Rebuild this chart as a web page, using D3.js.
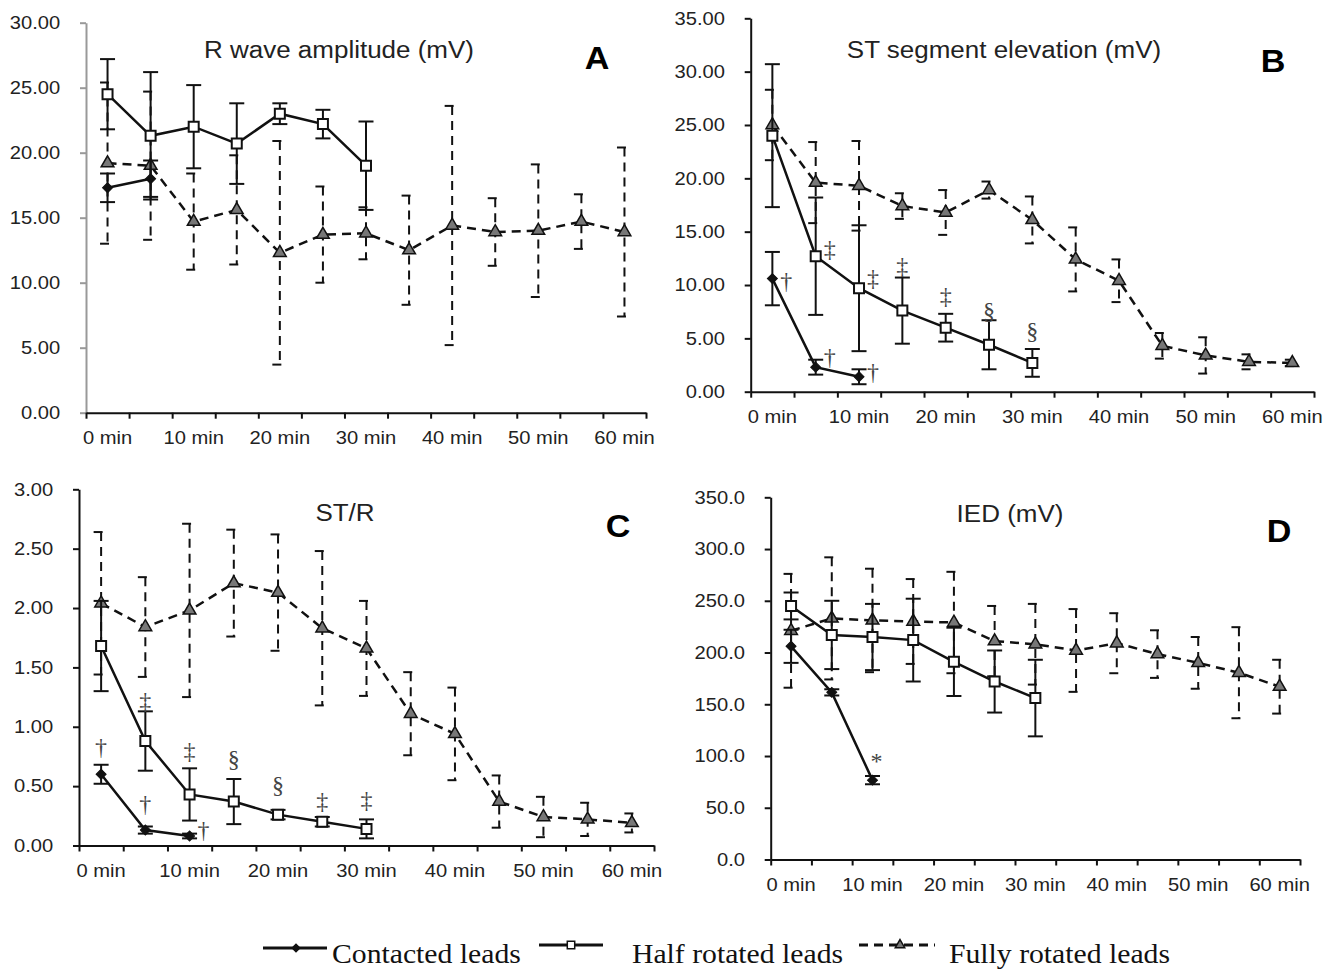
<!DOCTYPE html>
<html>
<head>
<meta charset="utf-8">
<script src="https://cdn.jsdelivr.net/npm/d3@7"></script>
<style>
  body { margin: 0; background: #fff; }
</style>
</head>
<body>
<div id="chart"></div>
<script>
/* DATA */
const minutes = [0, 5, 10, 15, 20, 25, 30, 35, 40, 45, 50, 55, 60];

// A - R wave amplitude (mV)
const rContacted = [17.3, 18.0];
const rContactedSd = [1.1, 1.4];
const rHalf = [24.5, 21.3, 22.0, 20.7, 23.0, 22.2, 19.0];
const rHalfSd = [2.7, 4.9, 3.2, 3.1, 0.8, 1.1, 3.4];
const rFully = [19.2, 19.0, 14.7, 15.6, 12.3, 13.7, 13.8, 12.5, 14.4, 13.9, 14.0, 14.7, 13.9];
const rFullySd = [6.2, 5.7, 3.7, 4.2, 8.6, 3.7, 2.0, 4.2, 9.2, 2.6, 5.1, 2.1, 6.5];
const rTicks = [0, 5, 10, 15, 20, 25, 30];

// B - ST segment elevation (mV)
const stContacted = [10.6, 2.3, 1.4];
const stContactedSd = [2.5, 0.7, 0.7];
const stHalf = [24.0, 12.7, 9.7, 7.6, 6.0, 4.4, 2.7];
const stHalfSd = [6.7, 5.5, 5.9, 3.1, 1.3, 2.3, 1.3];
const stFully = [25.0, 19.6, 19.3, 17.4, 16.8, 18.9, 16.1, 12.4, 10.4, 4.3, 3.4, 2.8, 2.7];
const stFullySd = [3.3, 3.8, 4.2, 1.2, 2.1, 0.8, 2.2, 3.0, 2.0, 1.2, 1.7, 0.7, 0.3];
const stTicks = [0, 5, 10, 15, 20, 25, 30, 35];
const stMarks = [
  { i: 0, v: 10.4, s: "†", beside: true },
  { i: 1, v: 3.3, s: "†", beside: true },
  { i: 2, v: 1.9, s: "†", beside: true },
  { i: 1, v: 13.4, s: "‡", beside: true },
  { i: 2, v: 10.7, s: "‡", beside: true },
  { i: 3, v: 11.8, s: "‡", beside: false },
  { i: 4, v: 9.0, s: "‡", beside: false },
  { i: 5, v: 7.6, s: "§", beside: false },
  { i: 6, v: 5.7, s: "§", beside: false }
];

// C - ST/R
const strContacted = [0.60, 0.13, 0.08];
const strContactedSd = [0.08, 0.03, 0.02];
const strHalf = [1.68, 0.88, 0.43, 0.37, 0.26, 0.20, 0.14];
const strHalfSd = [0.38, 0.25, 0.22, 0.19, 0.04, 0.04, 0.08];
const strFully = [2.04, 1.84, 1.98, 2.21, 2.13, 1.83, 1.66, 1.11, 0.94, 0.37, 0.24, 0.22, 0.19];
const strFullySd = [0.60, 0.42, 0.73, 0.45, 0.49, 0.65, 0.40, 0.35, 0.39, 0.22, 0.17, 0.14, 0.08];
const strTicks = [0, 0.5, 1, 1.5, 2, 2.5, 3];
const strMarks = [
  { i: 0, v: 0.83, s: "†", beside: false },
  { i: 1, v: 0.35, s: "†", beside: false },
  { i: 2, v: 0.13, s: "†", beside: true },
  { i: 1, v: 1.22, s: "‡", beside: false },
  { i: 2, v: 0.80, s: "‡", beside: false },
  { i: 3, v: 0.73, s: "§", beside: false },
  { i: 4, v: 0.51, s: "§", beside: false },
  { i: 5, v: 0.38, s: "‡", beside: false },
  { i: 6, v: 0.39, s: "‡", beside: false }
];

// D - IED (mV)
const iedContacted = [206, 161.5, 76.7];
const iedContactedSd = [16, 3, 4];
const iedHalf = [245, 217, 215, 212, 191, 172, 156];
const iedHalfSd = [13, 33, 32, 40, 33, 30, 37];
const iedFully = [221, 233, 231, 230, 229, 211, 208, 202, 209, 198.5, 190, 180.5, 167];
const iedFullySd = [55, 59, 50, 41, 49, 34, 39, 40, 29, 23, 25, 44, 26];
const iedTicks = [0, 50, 100, 150, 200, 250, 300, 350];
const iedMarks = [{ i: 2, v: 96, s: "*", beside: false }];

const legendLabels = ["Contacted leads", "Half rotated leads", "Fully rotated leads"];

/* LAYOUT */
const width = 1331, height = 969;
const ink = "#111";
const sans = "'Liberation Sans', Arial, sans-serif";
const serif = "'Liberation Serif', 'Times New Roman', serif";
const stretch = 1.12; // lettering in the figure is a little wider than normal

const panels = [
  { letter: "A", title: "R wave amplitude (mV)", x0: 86, x1: 646, yTop: 22.7, yBot: 412.7,
    max: 30, ticks: rTicks, fmt: ".2f", yColor: "#999",
    titleX: 339, titleY: 58, letterX: 597, letterY: 69,
    series: [[rFully, rFullySd], [rHalf, rHalfSd], [rContacted, rContactedSd]], marks: [] },
  { letter: "B", title: "ST segment elevation (mV)", x0: 750.7, x1: 1314, yTop: 18.3, yBot: 391.7,
    max: 35, ticks: stTicks, fmt: ".2f", yColor: ink,
    titleX: 1004, titleY: 58, letterX: 1273, letterY: 72,
    series: [[stFully, stFullySd], [stHalf, stHalfSd], [stContacted, stContactedSd]], marks: stMarks },
  { letter: "C", title: "ST/R", x0: 79, x1: 654, yTop: 489.3, yBot: 845.5,
    max: 3, ticks: strTicks, fmt: ".2f", yColor: ink,
    titleX: 345, titleY: 521, letterX: 618, letterY: 537,
    series: [[strFully, strFullySd], [strHalf, strHalfSd], [strContacted, strContactedSd]], marks: strMarks },
  { letter: "D", title: "IED (mV)", x0: 770.7, x1: 1300, yTop: 497.3, yBot: 859.5,
    max: 350, ticks: iedTicks, fmt: ".1f", yColor: ink,
    titleX: 1010, titleY: 522, letterX: 1279, letterY: 542,
    series: [[iedFully, iedFullySd], [iedHalf, iedHalfSd], [iedContacted, iedContactedSd]], marks: iedMarks }
];

// series styles: fully (dashed, triangle), half (solid, square), contacted (solid, diamond)
const styles = [
  { dash: "9,6", symbol: d3.symbolTriangle, size: 70, fill: "#777", sw: 1.5, rot: 0 },
  { dash: null, symbol: d3.symbolSquare, size: 100, fill: "#fff", sw: 2, rot: 0 },
  { dash: null, symbol: d3.symbolSquare, size: 50, fill: ink, sw: 1, rot: 45 }
];

const svg = d3.select("#chart").append("svg")
  .attr("width", width)
  .attr("height", height)
  .attr("font-family", sans);

panels.forEach(drawPanel);
drawLegend();

function drawPanel(p) {
  const x = d3.scaleBand().domain(minutes).range([p.x0, p.x1]);
  const xEdges = d3.scaleLinear().domain([0, minutes.length]).range([p.x0, p.x1]);
  const y = d3.scaleLinear().domain([0, p.max]).range([p.yBot, p.yTop]);
  const cx = i => x(minutes[i]) + x.bandwidth() / 2;
  const g = svg.append("g");

  // y axis
  const yAxis = g.append("g")
    .attr("transform", `translate(${p.x0},0)`)
    .call(d3.axisLeft(y).tickValues(p.ticks).tickFormat(d3.format(p.fmt))
      .tickSize(6).tickSizeOuter(0).tickPadding(17))
    .attr("font-family", sans)
    .attr("font-size", 18);
  yAxis.select(".domain").attr("stroke", p.yColor).attr("stroke-width", 2);
  yAxis.selectAll(".tick line").attr("stroke", p.yColor).attr("stroke-width", 2);
  yAxis.selectAll(".tick text").attr("fill", "#222").attr("transform", `scale(${stretch},1)`);

  // x axis: tick marks on category edges
  const xAxis = g.append("g")
    .attr("transform", `translate(0,${p.yBot})`)
    .call(d3.axisBottom(xEdges).tickValues(d3.range(minutes.length + 1)).tickFormat("")
      .tickSize(6).tickSizeOuter(0));
  xAxis.select(".domain").attr("stroke", ink).attr("stroke-width", 2);
  xAxis.selectAll(".tick line").attr("stroke", ink).attr("stroke-width", 2);

  // x labels on category centres, every 10 min
  const xLab = g.append("g")
    .attr("transform", `translate(0,${p.yBot})`)
    .call(d3.axisBottom(x).tickSize(0).tickPadding(19)
      .tickFormat(d => d % 10 === 0 ? d + " min" : ""))
    .attr("font-family", sans)
    .attr("font-size", 18);
  xLab.select(".domain").remove();
  xLab.selectAll(".tick text").attr("fill", "#222").attr("transform", `scale(${stretch},1)`);

  // titles
  g.append("text")
    .attr("transform", `translate(${p.titleX},${p.titleY}) scale(1.13,1)`)
    .attr("text-anchor", "middle")
    .attr("font-size", 23)
    .attr("fill", "#222")
    .text(p.title);
  g.append("text")
    .attr("transform", `translate(${p.letterX},${p.letterY}) scale(1.1,1)`)
    .attr("text-anchor", "middle")
    .attr("font-size", 31)
    .attr("font-weight", "bold")
    .attr("fill", "#000")
    .text(p.letter);

  // series
  p.series.forEach(([means, sds], k) => {
    const st = styles[k];
    const pts = means.map((v, i) => ({ cx: cx(i), v, sd: sds[i] }));
    const eb = g.append("g")
      .attr("stroke", ink)
      .attr("stroke-width", 2)
      .attr("stroke-dasharray", st.dash);
    const bars = eb.selectAll("g").data(pts).join("g");
    bars.append("line")
      .attr("x1", d => d.cx).attr("x2", d => d.cx)
      .attr("y1", d => y(d.v + d.sd)).attr("y2", d => y(Math.max(0, d.v - d.sd)));
    bars.append("line")
      .attr("x1", d => d.cx - 7.5).attr("x2", d => d.cx + 7.5)
      .attr("y1", d => y(d.v + d.sd)).attr("y2", d => y(d.v + d.sd));
    bars.append("line")
      .attr("x1", d => d.cx - 7.5).attr("x2", d => d.cx + 7.5)
      .attr("y1", d => y(Math.max(0, d.v - d.sd))).attr("y2", d => y(Math.max(0, d.v - d.sd)));

    g.append("path")
      .datum(pts)
      .attr("fill", "none")
      .attr("stroke", ink)
      .attr("stroke-width", 2.5)
      .attr("stroke-dasharray", st.dash)
      .attr("d", d3.line().x(d => d.cx).y(d => y(d.v)));

    g.selectAll(null).data(pts).join("path")
      .attr("transform", d => `translate(${d.cx},${y(d.v)}) rotate(${st.rot})`)
      .attr("d", d3.symbol(st.symbol, st.size))
      .attr("fill", st.fill)
      .attr("stroke", ink)
      .attr("stroke-width", st.sw);
  });

  // significance marks
  g.selectAll(null).data(p.marks).join("text")
    .attr("x", d => cx(d.i) + (d.beside ? 14 : (d.s === "*" ? 4 : 0)))
    .attr("y", d => y(d.v))
    .attr("dy", "0.35em")
    .attr("text-anchor", "middle")
    .attr("font-family", serif)
    .attr("font-size", d => d.s === "*" ? 24 : 24)
    .attr("fill", "#444")
    .text(d => d.s);
}

function drawLegend() {
  const lg = svg.append("g");
  const items = [
    { x1: 263, x2: 327, y: 948, sx: 296, tx: 332, st: styles[2] },
    { x1: 539, x2: 603, y: 945, sx: 571, tx: 632, st: styles[1] },
    { x1: 859, x2: 935, y: 945, sx: 900, tx: 949, st: styles[0] }
  ];
  items.forEach((it, k) => {
    lg.append("line")
      .attr("x1", it.x1).attr("x2", it.x2)
      .attr("y1", it.y).attr("y2", it.y)
      .attr("stroke", ink)
      .attr("stroke-width", 3)
      .attr("stroke-dasharray", it.st.dash);
    lg.append("path")
      .attr("transform", `translate(${it.sx},${it.y}) rotate(${it.st.rot})`)
      .attr("d", d3.symbol(it.st.symbol, it.st.size * 0.55))
      .attr("fill", it.st.fill)
      .attr("stroke", ink)
      .attr("stroke-width", 1.5);
    lg.append("text")
      .attr("transform", `translate(${it.tx},963) scale(1.1,1)`)
      .attr("font-family", serif)
      .attr("font-size", 27)
      .attr("fill", "#111")
      .text(legendLabels[k]);
  });
}
</script>
</body>
</html>
